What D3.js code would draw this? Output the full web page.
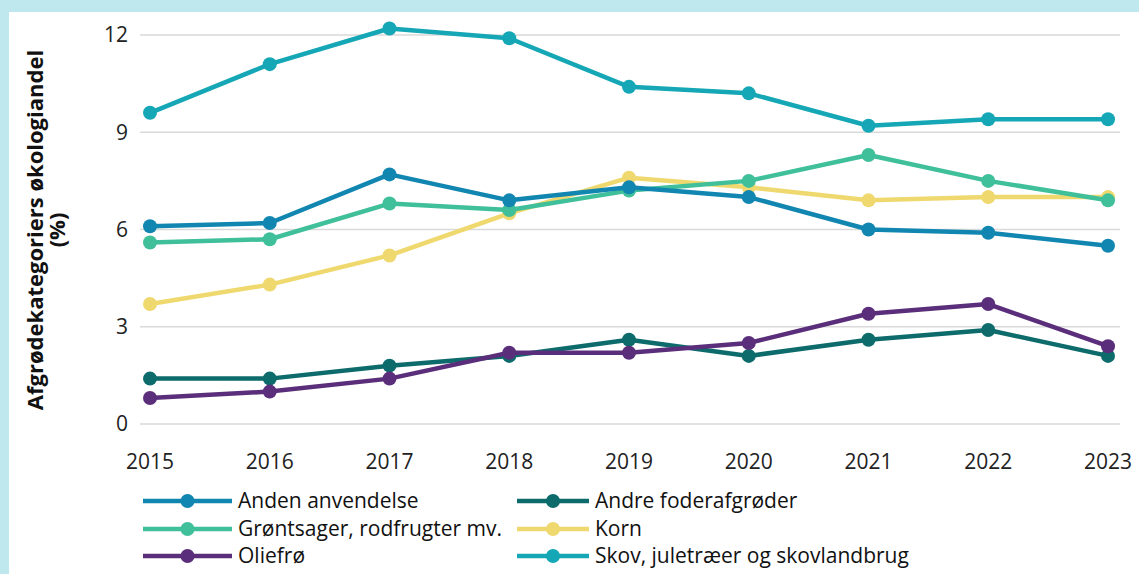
<!DOCTYPE html>
<html>
<head>
<meta charset="utf-8">
<script src="https://cdn.jsdelivr.net/npm/d3@7"></script>
<style>
  body { margin: 0; background: #bfe8ee; }
  svg { display: block; font-family: "Open Sans", sans-serif; }
</style>
</head>
<body>
<svg id="chart" width="1139" height="574"></svg>
<script>
const years = [2015, 2016, 2017, 2018, 2019, 2020, 2021, 2022, 2023];
const yTicks = [0, 3, 6, 9, 12];

const andenAnvendelse = [6.1, 6.2, 7.7, 6.9, 7.3, 7.0, 6.0, 5.9, 5.5];
const andreFoderafgroeder = [1.4, 1.4, 1.8, 2.1, 2.6, 2.1, 2.6, 2.9, 2.1];
const groentsager = [5.6, 5.7, 6.8, 6.6, 7.2, 7.5, 8.3, 7.5, 6.9];
const korn = [3.7, 4.3, 5.2, 6.5, 7.6, 7.3, 6.9, 7.0, 7.0];
const oliefroe = [0.8, 1.0, 1.4, 2.2, 2.2, 2.5, 3.4, 3.7, 2.4];
const skov = [9.6, 11.1, 12.2, 11.9, 10.4, 10.2, 9.2, 9.4, 9.4];

const seriesNames = [
  "Anden anvendelse",
  "Andre foderafgrøder",
  "Grøntsager, rodfrugter mv.",
  "Korn",
  "Oliefrø",
  "Skov, juletræer og skovlandbrug",
];
const seriesValues = [andenAnvendelse, andreFoderafgroeder, groentsager, korn, oliefroe, skov];
const colors = ["#1186b1", "#0d6b6c", "#3fbf9a", "#efd96f", "#5a2e7a", "#15a7b5"];

const svg = d3.select("#chart");

// white panel
svg.append("rect")
  .attr("x", 9).attr("y", 12)
  .attr("width", 1130).attr("height", 562)
  .attr("fill", "#fff");

const x = d3.scalePoint().domain(years).range([150, 1108]);
const y = d3.scaleLinear().domain([0, 12]).range([424, 35]);

// gridlines
svg.append("g")
  .selectAll("line")
  .data(yTicks)
  .join("line")
  .attr("x1", 140).attr("x2", 1120)
  .attr("y1", (d) => y(d)).attr("y2", (d) => y(d))
  .attr("stroke", "#d9d9d9")
  .attr("stroke-width", 1.5);

// y axis labels
svg.append("g")
  .selectAll("text")
  .data(yTicks)
  .join("text")
  .attr("x", 128)
  .attr("y", (d) => y(d))
  .attr("dy", "0.35em")
  .attr("text-anchor", "end")
  .attr("font-size", 21)
  .attr("fill", "#222")
  .text((d) => d);

// x axis labels
svg.append("g")
  .selectAll("text")
  .data(years)
  .join("text")
  .attr("x", (d) => x(d))
  .attr("y", 462)
  .attr("dy", "0.35em")
  .attr("text-anchor", "middle")
  .attr("font-size", 21)
  .attr("fill", "#222")
  .text((d) => d);

// y title
const title = svg.append("text")
  .attr("transform", "translate(35,230) rotate(-90)")
  .attr("text-anchor", "middle")
  .attr("font-size", 22)
  .attr("font-weight", "bold")
  .attr("fill", "#111");
title.append("tspan").attr("x", 0).attr("dy", "0.35em").text("Afgrødekategoriers økologiandel");
title.append("tspan").attr("x", 0).attr("dy", "1.0em").text("(%)");

const line = d3.line()
  .x((d, i) => x(years[i]))
  .y((d) => y(d));

// draw order so skov on top etc.
const order = [1, 4, 3, 2, 0, 5];
order.forEach((s) => {
  const g = svg.append("g");
  g.append("path")
    .datum(seriesValues[s])
    .attr("d", line)
    .attr("fill", "none")
    .attr("stroke", colors[s])
    .attr("stroke-width", 4.5)
    .attr("stroke-linejoin", "round");
  g.selectAll("circle")
    .data(seriesValues[s])
    .join("circle")
    .attr("cx", (d, i) => x(years[i]))
    .attr("cy", (d) => y(d))
    .attr("r", 7)
    .attr("fill", colors[s]);
});

// legend
const legendCols = [
  { x1: 143, x2: 232, tx: 238 },
  { x1: 517, x2: 589, tx: 595 },
];
const legendRows = [501, 529, 556];
seriesNames.forEach((name, i) => {
  const c = legendCols[i % 2];
  const ry = legendRows[Math.floor(i / 2)];
  const g = svg.append("g");
  g.append("line")
    .attr("x1", c.x1).attr("x2", c.x2)
    .attr("y1", ry).attr("y2", ry)
    .attr("stroke", colors[i])
    .attr("stroke-width", 4.5);
  g.append("circle")
    .attr("cx", (c.x1 + c.x2) / 2)
    .attr("cy", ry)
    .attr("r", 7)
    .attr("fill", colors[i]);
  g.append("text")
    .attr("x", c.tx)
    .attr("y", ry)
    .attr("dy", "0.35em")
    .attr("font-size", 21)
    .attr("fill", "#111")
    .text(name);
});
</script>
</body>
</html>
